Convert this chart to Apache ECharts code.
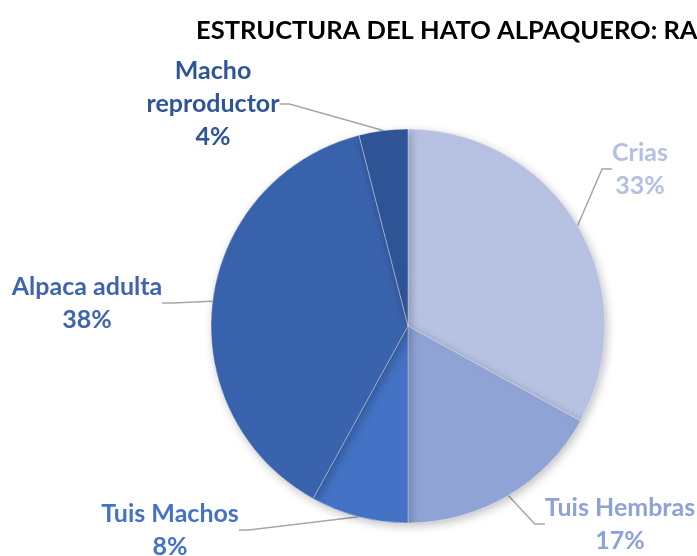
<!DOCTYPE html>
<html>
<head>
<meta charset="utf-8">
<script src="https://cdn.jsdelivr.net/npm/echarts@6/dist/echarts.min.js"></script>
<style>
  html, body { margin: 0; padding: 0; background: #fff; }
  #chart { width: 697px; height: 556px; }
</style>
</head>
<body>
<div id="chart"></div>
<script>
// categories and shares (%)
const categories = ["Crias", "Tuis Hembras", "Tuis Machos", "Alpaca adulta", "Macho reproductor"];
const shares = [33, 17, 8, 38, 4];
const sliceColors = ["#B7C1E2", "#8FA3D5", "#4472C4", "#3A63AD", "#2F5597"];
const labelColors = ["#B4BFE1", "#8DA2D6", "#4472C4", "#3E64AE", "#2F5597"];

// where each label block sits (center of the text)
const labelPos = [
  [640, 169],
  [620, 524],
  [170, 530],
  [87, 303],
  [213, 104]
];

const chart = echarts.init(document.getElementById("chart"));

const option = {
  title: {
    text: "ESTRUCTURA DEL HATO ALPAQUERO: RAZA HUACAYA",
    left: 191,
    top: 13,
    textStyle: {
      fontFamily: "Lato",
      fontSize: 25.5,
      fontWeight: "bold",
      color: "#000"
    }
  },
  series: [
    {
      type: "pie",
      center: [408, 326],
      radius: 197,
      startAngle: 90,
      clockwise: true,
      data: categories.map((name, i) => ({
        name: name,
        value: shares[i],
        itemStyle: { color: sliceColors[i] },
        label: { color: labelColors[i] }
      })),
      itemStyle: {
        borderColor: "rgba(255,255,255,0.35)",
        borderWidth: 1,
        shadowBlur: 10,
        shadowOffsetX: 2,
        shadowOffsetY: 3,
        shadowColor: "rgba(0,0,0,0.25)"
      },
      label: {
        show: true,
        position: "outside",
        fontFamily: "Lato",
        fontSize: 25,
        fontWeight: "bold",
        lineHeight: 33,
        align: "center",
        formatter: function (p) {
          const name = p.name === "Macho reproductor" ? "Macho\nreproductor" : p.name;
          return name + "\n" + p.value + "%";
        }
      },
      labelLine: {
        show: true,
        length: 15,
        length2: 10,
        lineStyle: { color: "#A6A6A6", width: 1.5 }
      },
      labelLayout: function (params) {
        const pos = labelPos[params.dataIndex];
        return {
          x: pos[0],
          y: pos[1],
          align: "center",
          verticalAlign: "middle"
        };
      },
      emphasis: { disabled: true },
      animation: false
    }
  ]
};

chart.setOption(option);
</script>
</body>
</html>
